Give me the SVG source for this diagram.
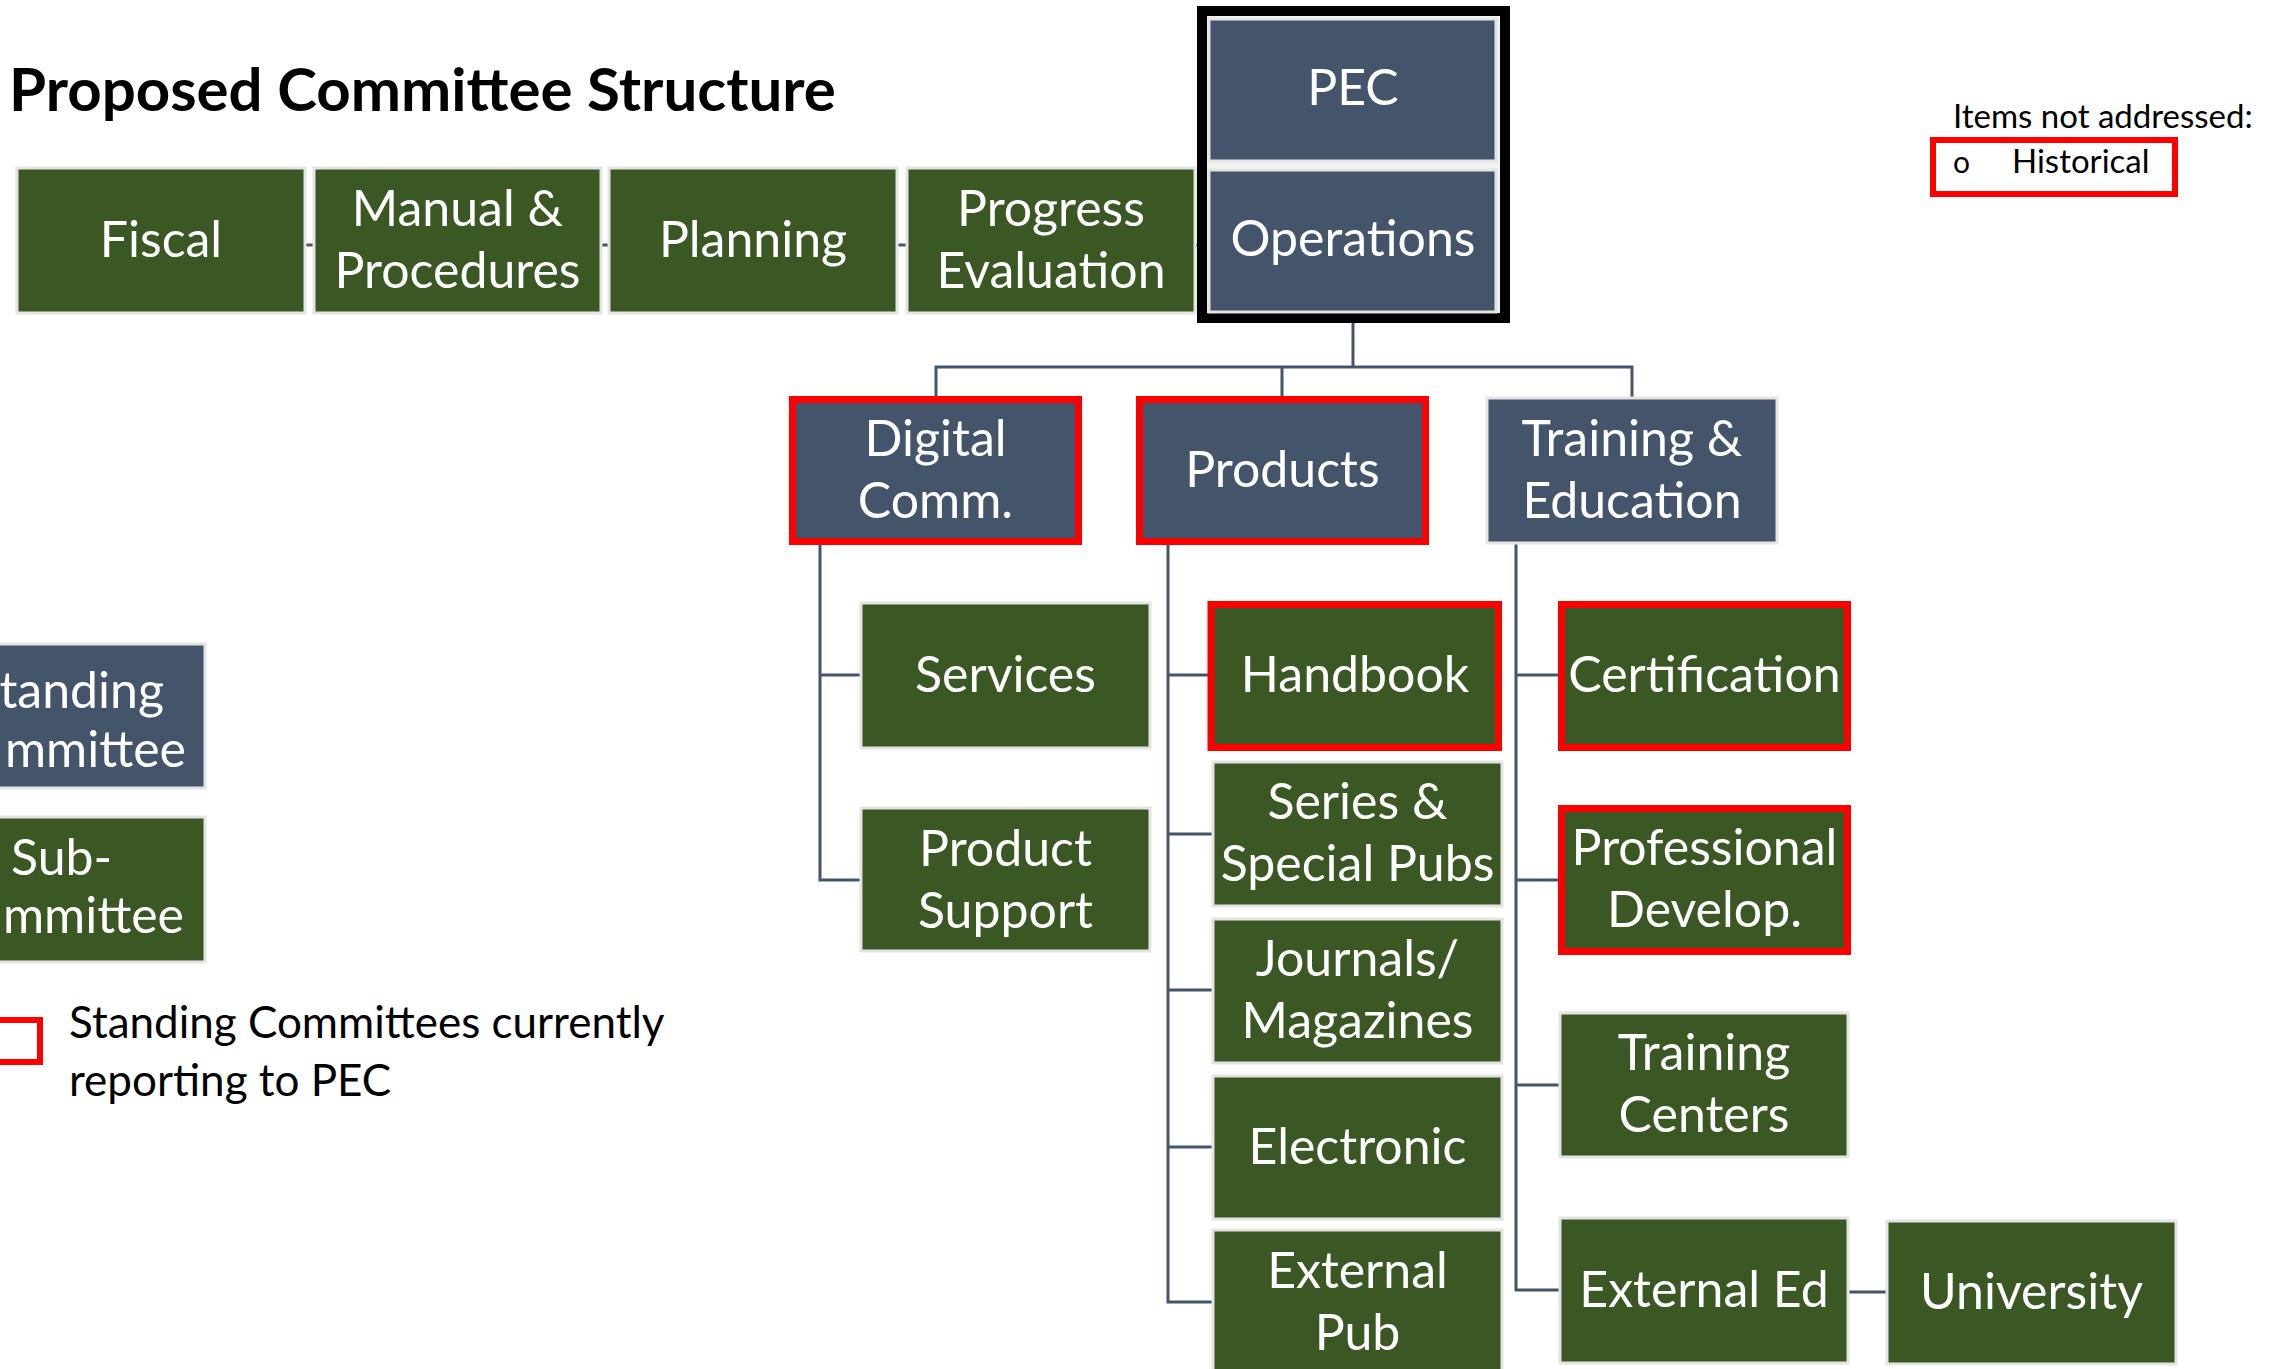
<svg xmlns="http://www.w3.org/2000/svg" width="2295" height="1369" viewBox="0 0 2295 1369">
<style>
.sc{fill:#44546A;stroke:#E4E4E4;stroke-width:3}
.sub{fill:#3A5724;stroke:#E4E4E4;stroke-width:3}
.red{stroke:#FF0000;stroke-width:7}
.t{font-family:Lato,"Liberation Sans",sans-serif;font-size:50px;fill:#FFFFFF;text-anchor:middle}
.k{font-family:Lato,"Liberation Sans",sans-serif;fill:#000000}
.conn{stroke:#44546A;stroke-width:3;fill:none}
</style>
<rect x="0" y="0" width="2295" height="1369" fill="#FFFFFF"/>
<text class="k" x="9" y="111" font-size="60" font-weight="700">Proposed Committee Structure</text>
<g id="connectors">
<line class="conn" x1="161" y1="245" x2="1202" y2="245" stroke="#7F7F7F"/>
<line class="conn" x1="1353" y1="161" x2="1353" y2="170"/>
<polyline class="conn" points="1353,318 1353,367"/>
<polyline class="conn" points="936,396 936,367 1632,367 1632,398"/>
<line class="conn" x1="1282" y1="367" x2="1282" y2="396"/>
<polyline class="conn" points="820,545 820,880 861,880"/>
<line class="conn" x1="820" y1="675" x2="861" y2="675"/>
<polyline class="conn" points="1168,545 1168,1302 1213,1302"/>
<line class="conn" x1="1168" y1="675" x2="1208" y2="675"/>
<line class="conn" x1="1168" y1="834" x2="1213" y2="834"/>
<line class="conn" x1="1168" y1="990" x2="1213" y2="990"/>
<line class="conn" x1="1168" y1="1147" x2="1213" y2="1147"/>
<polyline class="conn" points="1516,543 1516,1290 1560,1290"/>
<line class="conn" x1="1516" y1="675" x2="1558" y2="675"/>
<line class="conn" x1="1516" y1="880" x2="1558" y2="880"/>
<line class="conn" x1="1516" y1="1085" x2="1560" y2="1085"/>
<line class="conn" x1="1848" y1="1292" x2="1887" y2="1292"/>
</g>
<g id="fiscal"><rect class="sub" x="17" y="168" width="288" height="145" stroke="#FFFFFF"/><text class="t" x="161" y="257">Fiscal</text></g>
<g id="manual"><rect class="sub" x="314" y="168" width="287" height="145" stroke="#FFFFFF"/><text class="t" x="457.5" y="226">Manual &amp;</text><text class="t" x="457.5" y="288">Procedures</text></g>
<g id="planning"><rect class="sub" x="609" y="168" width="288" height="145" stroke="#FFFFFF"/><text class="t" x="753" y="257">Planning</text></g>
<g id="progress"><rect class="sub" x="907" y="168" width="288" height="145" stroke="#FFFFFF"/><text class="t" x="1051" y="226">Progress</text><text class="t" x="1051" y="288">Evaluation</text></g>
<g id="pec-group">
<rect x="1202" y="11" width="303" height="307" fill="#F2F2F2" stroke="#000000" stroke-width="10"/>
<g id="pec"><rect class="sc" x="1209" y="19" width="287" height="142"/><text class="t" x="1353" y="105">PEC</text></g>
<g id="operations"><rect class="sc" x="1209" y="170" width="287" height="142"/><text class="t" x="1353" y="256">Operations</text></g>
</g>
<g id="digital"><rect class="sc red" x="792.5" y="399.5" width="286" height="142"/><text class="t" x="935.5" y="456">Digital</text><text class="t" x="935.5" y="518">Comm.</text></g>
<g id="products"><rect class="sc red" x="1139.5" y="399.5" width="286" height="142"/><text class="t" x="1282.5" y="487">Products</text></g>
<g id="training-education"><rect class="sc" x="1487" y="398" width="290" height="145"/><text class="t" x="1632" y="456">Training &amp;</text><text class="t" x="1632" y="518">Education</text></g>
<g id="services"><rect class="sub" x="861" y="603" width="289" height="145"/><text class="t" x="1005.5" y="692">Services</text></g>
<g id="product-support"><rect class="sub" x="861" y="808" width="289" height="143"/><text class="t" x="1005.5" y="866">Product</text><text class="t" x="1005.5" y="928">Support</text></g>
<g id="handbook"><rect class="sub red" x="1211" y="604.5" width="287.5" height="143"/><text class="t" x="1355" y="692">Handbook</text></g>
<g id="series"><rect class="sub" x="1213" y="762" width="289" height="144"/><text class="t" x="1357.5" y="819">Series &amp;</text><text class="t" x="1357.5" y="881">Special Pubs</text></g>
<g id="journals"><rect class="sub" x="1213" y="919" width="289" height="144"/><text class="t" x="1357.5" y="976">Journals/</text><text class="t" x="1357.5" y="1038">Magazines</text></g>
<g id="electronic"><rect class="sub" x="1213" y="1076" width="289" height="143"/><text class="t" x="1357.5" y="1164">Electronic</text></g>
<g id="external-pub"><rect class="sub" x="1213" y="1230" width="289" height="145"/><text class="t" x="1357.5" y="1288">External</text><text class="t" x="1357.5" y="1350">Pub</text></g>
<g id="certification"><rect class="sub red" x="1561.5" y="604.5" width="286" height="143"/><text class="t" x="1704.5" y="692">Certification</text></g>
<g id="professional"><rect class="sub red" x="1561.5" y="808.5" width="286" height="143"/><text class="t" x="1704.5" y="865">Professional</text><text class="t" x="1704.5" y="927">Develop.</text></g>
<g id="training-centers"><rect class="sub" x="1560" y="1013" width="288" height="144"/><text class="t" x="1704" y="1070">Training</text><text class="t" x="1704" y="1132">Centers</text></g>
<g id="external-ed"><rect class="sub" x="1560" y="1218" width="288" height="145"/><text class="t" x="1704" y="1307">External Ed</text></g>
<g id="university"><rect class="sub" x="1887" y="1221" width="289" height="143"/><text class="t" x="2031.5" y="1309">University</text></g>
<g id="legend-standing"><rect class="sc" x="-10" y="644" width="215" height="144" stroke="none"/><text class="t" x="164" y="708" style="text-anchor:end">tanding</text><text class="t" x="186" y="767" style="text-anchor:end">mmittee</text></g>
<g id="legend-sub"><rect class="sub" x="-10" y="817" width="215" height="145" stroke="none"/><text class="t" x="11" y="875" style="text-anchor:start">Sub-</text><text class="t" x="184" y="933" style="text-anchor:end">mmittee</text></g>
<g id="legend-red"><rect x="-17" y="1020" width="57" height="42" fill="none" stroke="#FF0000" stroke-width="6"/><text class="k" x="69" y="1038" font-size="44">Standing Committees currently</text><text class="k" x="69" y="1096" font-size="44">reporting to PEC</text></g>
<g id="not-addressed"><text class="k" x="1953" y="128" font-size="33">Items not addressed:</text><rect x="1933" y="140" width="242" height="54" fill="#FFFFFF" stroke="#FF0000" stroke-width="6"/><text class="k" x="1953" y="173" font-size="30">o</text><text class="k" x="2012" y="173" font-size="33">Historical</text></g>
</svg>
